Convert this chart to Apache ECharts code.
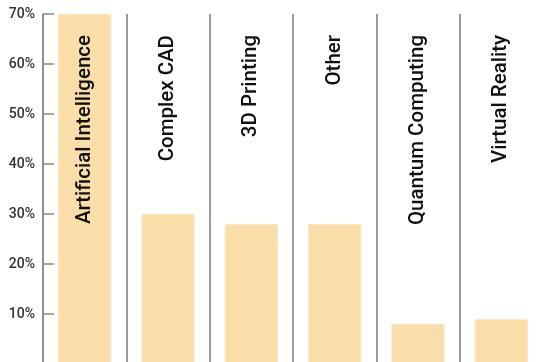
<!DOCTYPE html>
<html><head><meta charset="utf-8">
<script src="https://cdn.jsdelivr.net/npm/echarts@6/dist/echarts.min.js"></script>
<style>html,body{margin:0;padding:0;background:#fff}#c{width:539px;height:362px}</style>
</head><body><div id="c"></div>
<script>
const categories = ["Artificial Intelligence","Complex CAD","3D Printing","Other","Quantum Computing","Virtual Reality"];
const values = [70, 30, 28, 28, 8, 9];
const labelLevel = [70, 70, 70, 70, 70, 70];
const yTicks = [0, 10, 20, 30, 40, 50, 60, 70];

const chart = echarts.init(document.getElementById('c'));
chart.setOption({
  animation: false,
  grid: {left: 43, top: 14, width: 500, height: 350, containLabel: false, outerBoundsMode: 'none'},
  xAxis: {
    type: 'category', data: categories, boundaryGap: true,
    axisLine: {show: false}, axisTick: {show: false}, axisLabel: {show: false},
    splitLine: {show: true, interval: 0, lineStyle: {color: '#7a7a7a', width: 1.5}}
  },
  yAxis: {
    type: 'value', min: yTicks[0], max: yTicks[yTicks.length-1], interval: 10,
    axisLine: {show: true, lineStyle: {color: '#888', width: 1.5}},
    axisTick: {show: true, inside: true, length: 11, lineStyle: {color: '#888', width: 1.5}},
    axisLabel: {formatter: v => v === 0 ? '' : v + '%', color: '#333', fontFamily: 'Roboto', fontSize: 14, fontWeight: 500, margin: 8},
    splitLine: {show: false}
  },
  series: [
    {
      type: 'bar', data: values, barWidth: '64%',
      itemStyle: {color: '#f9dea9', borderColor: '#fbe8c8', borderWidth: 1}
    },
    {
      type: 'bar', data: labelLevel, barWidth: '64%', barGap: '-100%', silent: true,
      itemStyle: {color: 'rgba(0,0,0,0)'},
      label: {
        show: true, position: 'insideTop', distance: 21, rotate: 90,
        align: 'right', verticalAlign: 'middle',
        formatter: '{b}', color: '#111', fontFamily: 'Roboto', fontSize: 20.5, fontWeight: 500
      }
    }
  ]
});
</script></body></html>
